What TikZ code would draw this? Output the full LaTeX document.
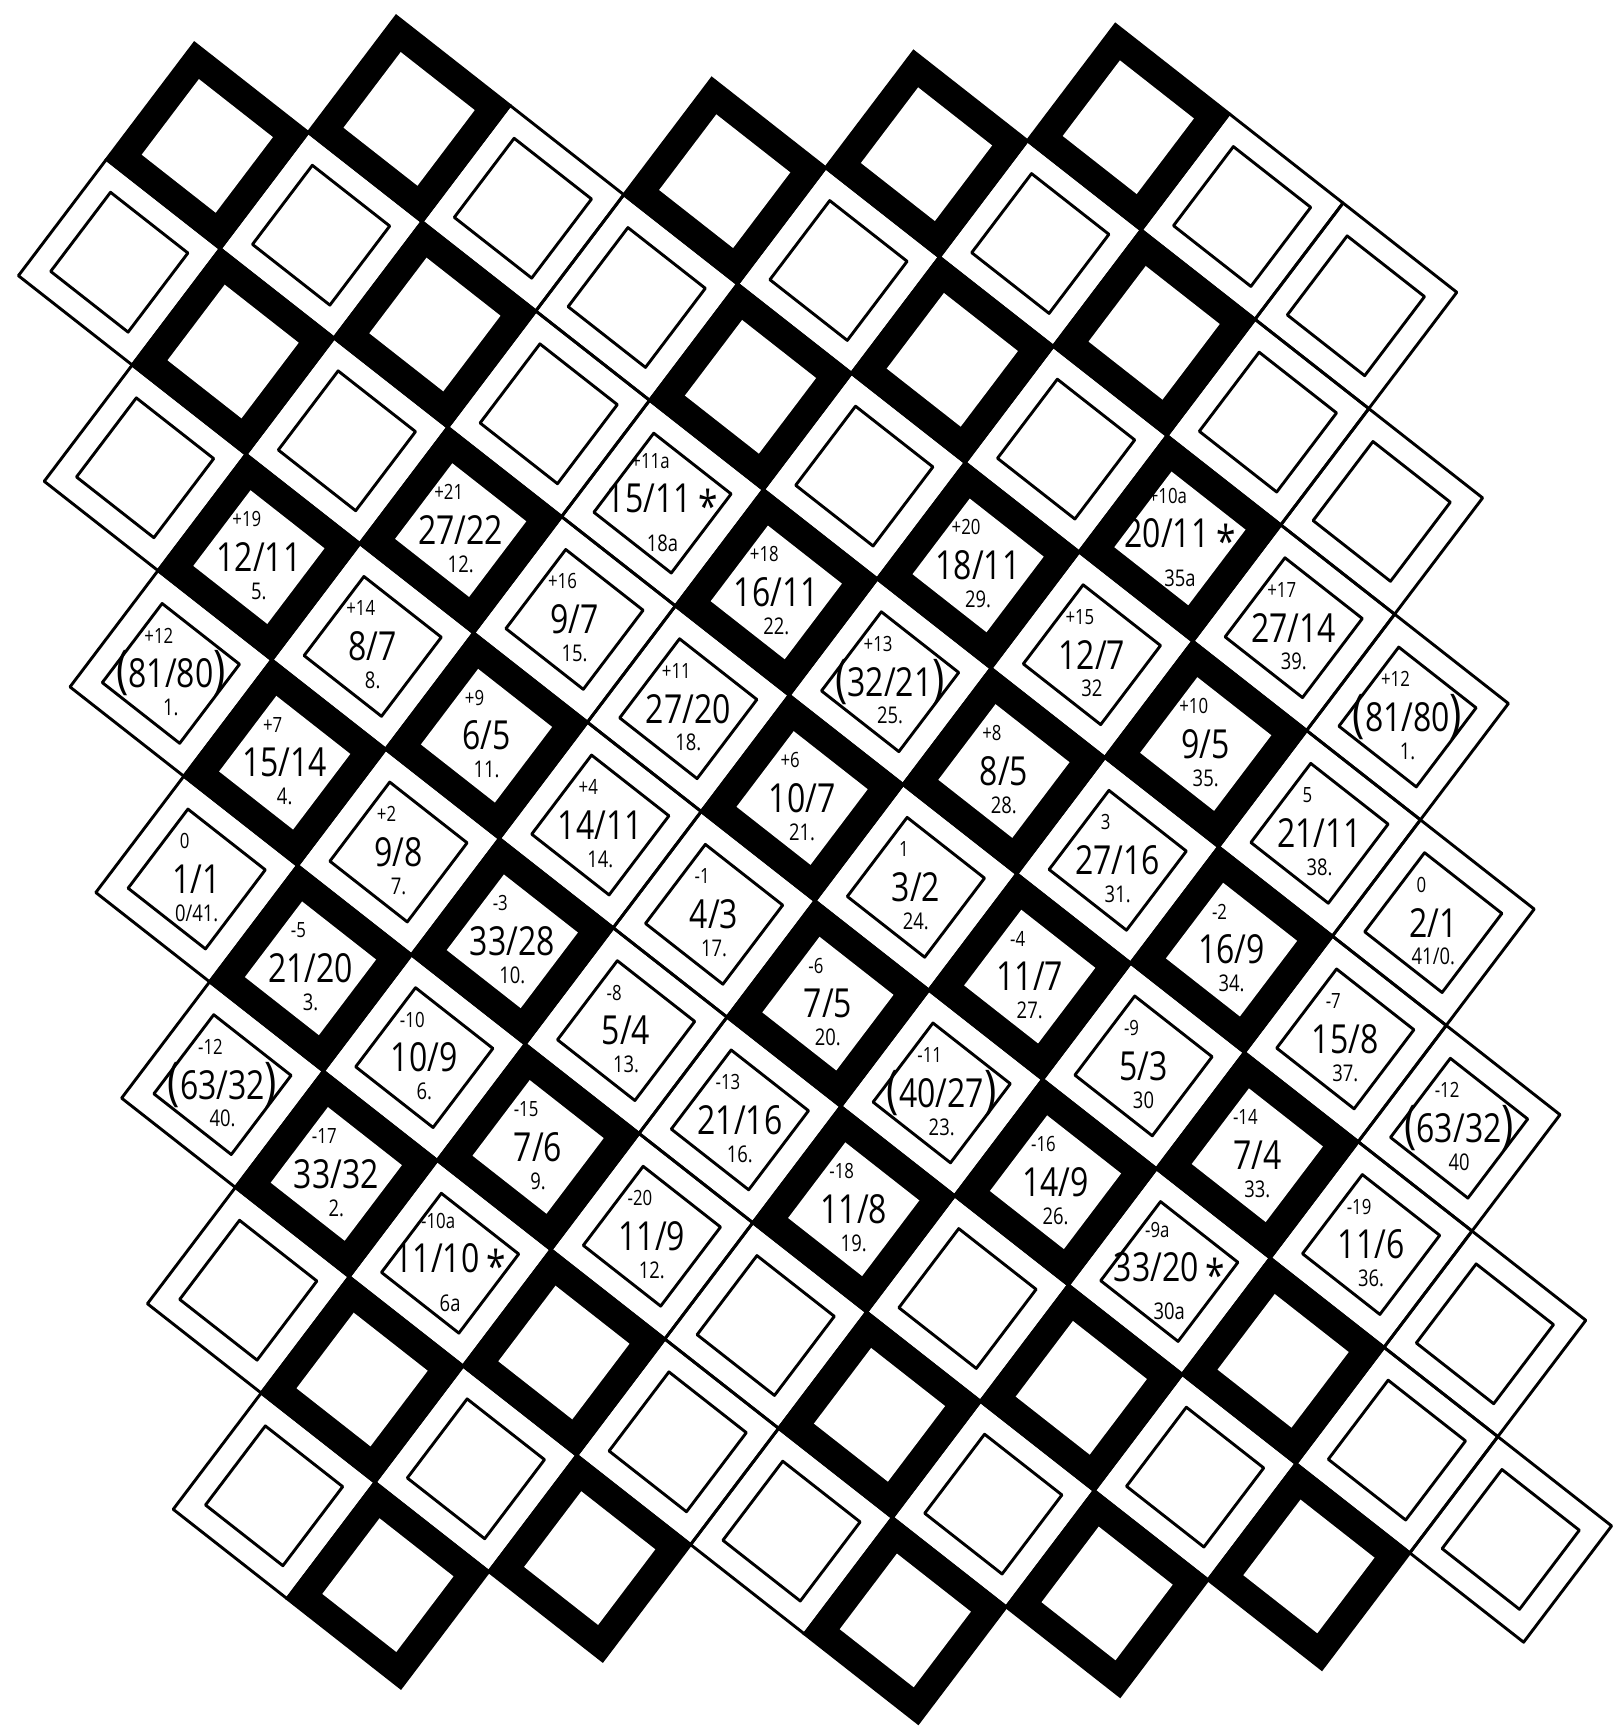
\documentclass[tikz,border=0pt]{standalone}
\usepackage{fontspec}
\setmainfont{Open Sans}
\newfontfamily\hand{Open Sans}[FakeStretch=0.8]
\newcommand\prn[1]{{\fontsize{26}{26}\selectfont(}#1{\fontsize{26}{26}\selectfont)}}
\newcommand\astk[1]{#1\,{\fontsize{22}{22}\selectfont\raisebox{-5pt}{*}}}
\newcommand\lab[6]{%
  \node[toplab] (#1t) at (#2,#3) {#4};
  \node[ratio] (#1r) at (#2,#3) {#5};
  \node[botlab] (#1b) at (#2,#3) {#6};
}
\newcommand\labs[6]{%
  \node[toplab, yshift=2pt] (#1t) at (#2,#3) {#4};
  \node[ratio] (#1r) at (#2,#3) {#5};
  \node[botlab, yshift=-3pt] (#1b) at (#2,#3) {#6};
}
\begin{document}
\begin{tikzpicture}[x=0.5pt,y=-0.5pt]
\tikzset{
  thinline/.style={line width=1.45pt, line join=round},
  ratio/.style={font=\hand\fontsize{20}{20}\selectfont, inner sep=0pt},
  toplab/.style={font=\hand\fontsize{10.5}{10.5}\selectfont, inner sep=0pt, xshift=-6pt, yshift=19pt},
  botlab/.style={font=\hand\fontsize{11.5}{11.5}\selectfont, inner sep=0pt, yshift=-17pt},
}
\fill[white] (0,0) rectangle (1619,1733);
\useasboundingbox (0,0) rectangle (1619,1733);
\begin{scope}[shift={(196.7,879)}, x={(56.9pt,-44.65pt)}, y={(44pt,58.15pt)}]
% thin cells
\foreach \q/\pa/\pb in {8/2/4, 7/1/5, 6/0/6, 5/-2/7, 4/-3/8, 3/-3/9, 2/-2/10, 1/-1/9, 0/0/8, -1/1/7, -2/2/5, -3/3/4} {
  \foreach \p in {\pa,...,\pb} {
    \pgfmathtruncatemacro\s{\p+\q}
    \pgfmathtruncatemacro\isthin{((\s<=4) && iseven(\s)) || ((\s>=5) && (\s<=11) && isodd(\s)) || ((\s>=12) && iseven(\s))}
    \ifnum\isthin=1
      \draw[thinline] (\p-0.5,\q-0.5) -- (\p+0.5,\q-0.5) -- (\p+0.5,\q+0.5) -- (\p-0.5,\q+0.5) -- cycle;
      \draw[thinline] (\p-0.34,\q-0.34) -- (\p+0.34,\q-0.34) -- (\p+0.34,\q+0.34) -- (\p-0.34,\q+0.34) -- cycle;
    \fi
  }
}
% thick cells
\foreach \q/\pa/\pb in {8/2/4, 7/1/5, 6/0/6, 5/-2/7, 4/-3/8, 3/-3/9, 2/-2/10, 1/-1/9, 0/0/8, -1/1/7, -2/2/5, -3/3/4} {
  \foreach \p in {\pa,...,\pb} {
    \pgfmathtruncatemacro\s{\p+\q}
    \pgfmathtruncatemacro\isthin{((\s<=4) && iseven(\s)) || ((\s>=5) && (\s<=11) && isodd(\s)) || ((\s>=12) && iseven(\s))}
    \ifnum\isthin=0
      \fill[black] (\p-0.51,\q-0.51) -- (\p+0.51,\q-0.51) -- (\p+0.51,\q+0.51) -- (\p-0.51,\q+0.51) -- cycle;
      \fill[white] (\p-0.325,\q-0.325) -- (\p+0.325,\q-0.325) -- (\p+0.325,\q+0.325) -- (\p-0.325,\q+0.325) -- cycle;
    \fi
  }
}
% labels
\lab{a1}{-1}{1}{+12}{\prn{81/80}}{1.}
\lab{a2}{0}{1}{+7}{15/14}{4.}
\lab{a3}{0}{0}{0}{1/1}{0/41.}
\lab{a4}{1}{0}{-5}{21/20}{3.}
\lab{a5}{1}{-1}{-12}{\prn{63/32}}{40.}
\lab{a6}{2}{-1}{-17}{33/32}{2.}
\lab{a7}{-1}{2}{+19}{12/11}{5.}
\lab{a8}{0}{2}{+14}{8/7}{8.}
\lab{a9}{1}{1}{+2}{9/8}{7.}
\lab{a10}{1}{2}{+9}{6/5}{11.}
\lab{a11}{0}{3}{+21}{27/22}{12.}
\lab{a12}{1}{3}{+16}{9/7}{15.}
\lab{a13}{2}{1}{-3}{33/28}{10.}
\lab{a14}{2}{0}{-10}{10/9}{6.}
\lab{a15}{3}{0}{-15}{7/6}{9.}
\labs{a16}{3}{-1}{-10a}{\astk{11/10}}{6a}
\labs{a17}{1}{4}{+11a}{\astk{15/11}}{18a}
\lab{a18}{2}{3}{+11}{27/20}{18.}
\lab{a19}{2}{2}{+4}{14/11}{14.}
\lab{a20}{3}{2}{-1}{4/3}{17.}
\lab{a21}{3}{1}{-8}{5/4}{13.}
\lab{a22}{4}{1}{-13}{21/16}{16.}
\lab{a23}{4}{0}{-20}{11/9}{12.}
\lab{a24}{2}{4}{+18}{16/11}{22.}
\lab{a25}{3}{3}{+6}{10/7}{21.}
\lab{a26}{4}{2}{-6}{7/5}{20.}
\lab{a27}{5}{1}{-18}{11/8}{19.}
\lab{a28}{3}{4}{+13}{\prn{32/21}}{25.}
\lab{a29}{4}{3}{1}{3/2}{24.}
\lab{a30}{5}{2}{-11}{\prn{40/27}}{23.}
\lab{a31}{3}{5}{+20}{18/11}{29.}
\lab{a32}{4}{4}{+8}{8/5}{28.}
\lab{a33}{5}{3}{-4}{11/7}{27.}
\lab{a34}{6}{2}{-16}{14/9}{26.}
\lab{a35}{4}{5}{+15}{12/7}{32}
\lab{a36}{5}{4}{3}{27/16}{31.}
\lab{a37}{6}{3}{-9}{5/3}{30}
\labs{a38}{7}{2}{-9a}{\astk{33/20}}{30a}
\labs{a39}{4}{6}{+10a}{\astk{20/11}}{35a}
\lab{a40}{5}{5}{+10}{9/5}{35.}
\lab{a41}{6}{4}{-2}{16/9}{34.}
\lab{a42}{7}{3}{-14}{7/4}{33.}
\lab{a43}{5}{6}{+17}{27/14}{39.}
\lab{a44}{6}{6}{+12}{\prn{81/80}}{1.}
\lab{a45}{6}{5}{5}{21/11}{38.}
\lab{a46}{7}{5}{0}{2/1}{41/0.}
\lab{a47}{7}{4}{-7}{15/8}{37.}
\lab{a48}{8}{4}{-12}{\prn{63/32}}{40}
\lab{a49}{8}{3}{-19}{11/6}{36.}
\end{scope}
\end{tikzpicture}
\end{document}
